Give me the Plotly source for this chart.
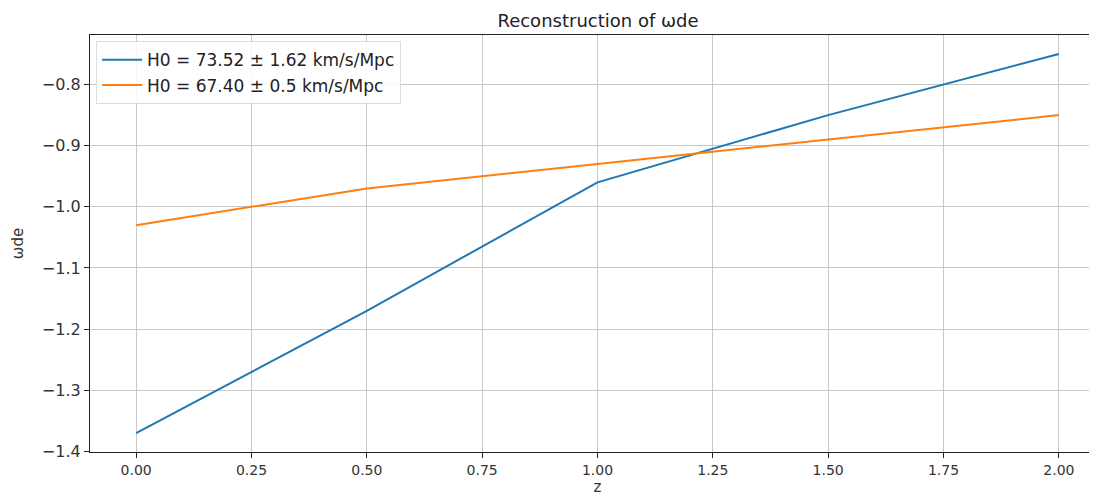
import plotly.graph_objects as go

z_vals = [0.0, 0.5, 1.0, 1.5, 2.0]
w_h73 = [-1.37, -1.17, -0.96, -0.85, -0.75]
w_h67 = [-1.03, -0.97, -0.93, -0.89, -0.85]
name_h73 = "H0 = 73.52 ± 1.62 km/s/Mpc"
name_h67 = "H0 = 67.40 ± 0.5 km/s/Mpc"
x_ticks = [0.0, 0.25, 0.5, 0.75, 1.0, 1.25, 1.5, 1.75, 2.0]
x_ticklabels = ["0.00", "0.25", "0.50", "0.75", "1.00", "1.25", "1.50", "1.75", "2.00"]
y_ticks = [-1.4, -1.3, -1.2, -1.1, -1.0, -0.9, -0.8]
y_ticklabels = ["−1.4", "−1.3", "−1.2", "−1.1", "−1.0", "−0.9", "−0.8"]

fig = go.Figure()
fig.add_trace(go.Scatter(x=z_vals, y=w_h73, mode="lines", name=name_h73,
                         line=dict(color="#1f77b4", width=2)))
fig.add_trace(go.Scatter(x=z_vals, y=w_h67, mode="lines", name=name_h67,
                         line=dict(color="#ff7f0e", width=2)))

font = "DejaVu Sans, sans-serif"
fig.update_layout(
    width=1097, height=495,
    margin=dict(l=82, r=0, t=27, b=51, autoexpand=False),
    paper_bgcolor="white", plot_bgcolor="white",
    font=dict(family=font, size=14, color="#333333"),
    title=dict(text="Reconstruction of ωde", x=590/1097, xanchor="center",
               y=1 - 13/495, yanchor="middle", automargin=False,
               font=dict(size=18, color="#222222")),
    legend=dict(x=0.006, y=0.985, xanchor="left", yanchor="top",
                bgcolor="rgba(255,255,255,0.85)", bordercolor="#dddddd", borderwidth=1,
                font=dict(size=17, color="#222222"), tracegroupgap=0, itemwidth=40),
    showlegend=True,
)
fig.update_xaxes(range=[-0.1, 2.1], tickvals=x_ticks, ticktext=x_ticklabels,
                 automargin=False, tickfont=dict(size=14),
                 showgrid=True, gridcolor="#c8c8c8", gridwidth=1,
                 showline=True, linecolor="#222222", linewidth=1.2, mirror=True,
                 ticks="outside", ticklen=5, tickcolor="#222222", zeroline=False,
                 title=dict(text="z", standoff=4, font=dict(size=15)))
fig.update_yaxes(range=[-1.401, -0.719], tickvals=y_ticks, ticktext=y_ticklabels,
                 automargin=False, tickfont=dict(size=16),
                 showgrid=True, gridcolor="#c8c8c8", gridwidth=1,
                 showline=True, linecolor="#222222", linewidth=1.2, mirror=False,
                 ticks="outside", ticklen=5, tickcolor="#222222", zeroline=False,
                 title=dict(text="ωde", standoff=14, font=dict(size=15)))

fig.write_html("out.html")
